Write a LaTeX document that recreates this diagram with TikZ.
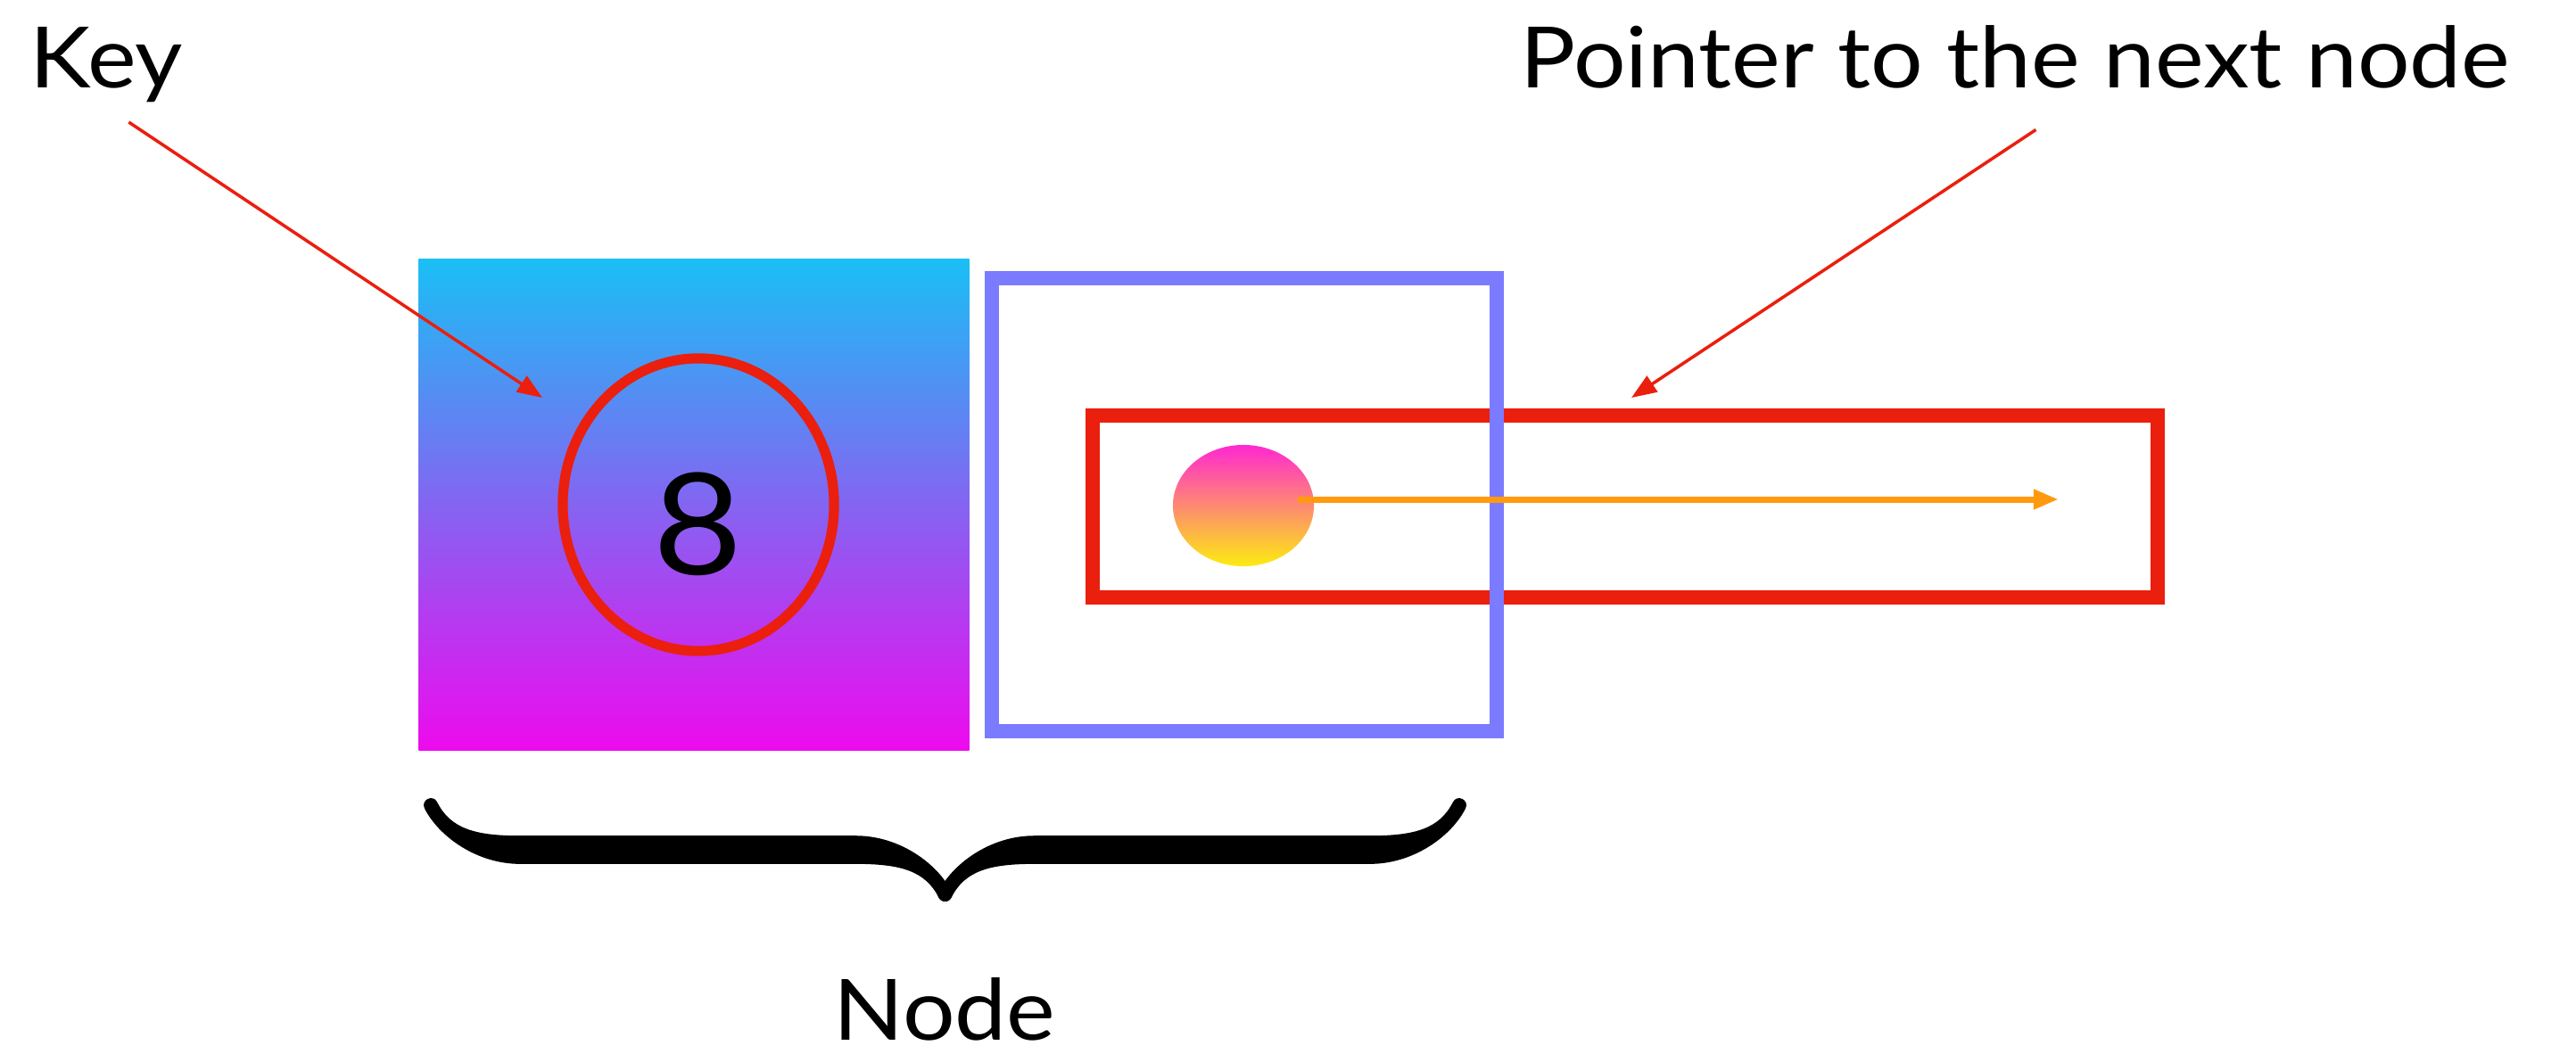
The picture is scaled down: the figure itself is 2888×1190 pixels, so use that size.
\documentclass[tikz,border=0pt]{standalone}
\usepackage{fontspec}
\setmainfont[FakeStretch=1.09]{Lato}
\usetikzlibrary{arrows.meta,shapes.geometric,decorations.pathreplacing,calligraphy}

\definecolor{keytop}{HTML}{1ABFF5}
\definecolor{keybottom}{HTML}{EE0AEE}
\definecolor{cellblue}{HTML}{7B7BFF}
\definecolor{linkred}{HTML}{EA1F0E}
\definecolor{dottop}{HTML}{FF28D2}
\definecolor{dotbottom}{HTML}{FCEC10}
\definecolor{ptrorange}{HTML}{FF9A0F}

\begin{document}
\begin{tikzpicture}[
    x = 0.01cm,
    y = -0.01cm,
    >={Triangle[length=8pt, width=6pt]},
    caption/.style = {font=\fontsize{27}{32}\selectfont, inner sep=0pt},
    keybox/.style = {rectangle, top color=keytop, bottom color=keybottom,
    minimum width=6.17cm, minimum height=5.51cm, inner sep=0pt},
    keyring/.style = {ellipse, draw=linkred, line width=3.2pt,
    minimum width=3.04cm, minimum height=3.28cm, inner sep=0pt},
    cellbox/.style = {rectangle, draw=cellblue, line width=4.6pt,
    minimum width=5.65cm, minimum height=5.07cm, inner sep=0pt},
    ptrbox/.style = {rectangle, draw=linkred, line width=4.6pt,
    minimum width=11.94cm, minimum height=2.04cm, inner sep=0pt},
    ptrdot/.style = {ellipse, top color=dottop, bottom color=dotbottom,
    minimum width=1.58cm, minimum height=1.36cm, inner sep=0pt},
    callout/.style = {->, draw=linkred, line width=1pt},
    ptrarrow/.style = {->, draw=ptrorange, line width=2pt},
]
\useasboundingbox (0,0) rectangle (2888,1190);

% labels
\node[caption, anchor=base west] (keylbl) at (33,98) {Key};
\node[caption, anchor=base west] (ptrlbl) at (1704,98) {Pointer to the next node};
\node[caption, anchor=base] (nodelbl) at (1059,1166) {Node};

% key part of the node
\node[keybox] (keyfield) at (778,566) {};
\node[keyring] (keyval) at (783,566) {};
\node[font=\fontsize{45}{50}\selectfont, inner sep=0pt] (keynum) at (783,588) {8};

% pointer part of the node
\node[ptrbox] (nextbox) at (1822,568) {};
\node[cellbox] (ptrfield) at (1395,566) {};
\node[ptrdot] (ptr) at (1394,567) {};

\coordinate (nextend) at (2308,560);
\coordinate (keytip) at (608,446);
\coordinate (ptrtip) at (1829,446);

\draw[ptrarrow] (ptr.center) ++(61,-7) -- (nextend);

\draw[callout] ([shift={(25,22)}]keylbl.south) -- (keytip);
\draw[callout] ([shift={(23,46)}]ptrlbl.south) -- (ptrtip);

% brace under the whole node
\draw[decorate, decoration={calligraphic brace, amplitude=1cm, mirror},
    line width=9pt] (483,903) -- (1636,903);

\end{tikzpicture}
\end{document}
